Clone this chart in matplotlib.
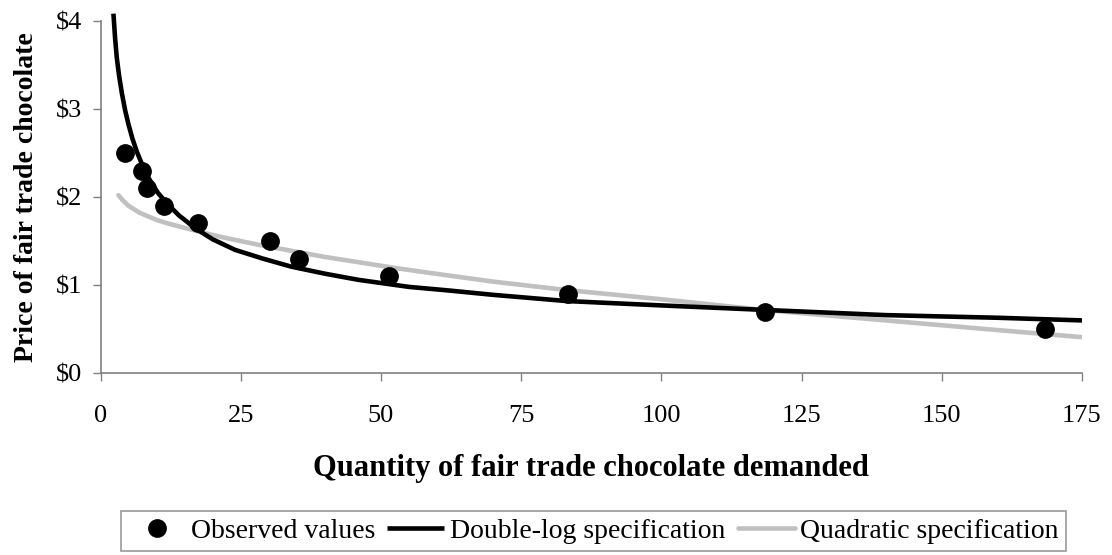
import numpy as np
import matplotlib
matplotlib.use("Agg")
import matplotlib.pyplot as plt
from matplotlib.ticker import FuncFormatter

plt.rcParams['font.family'] = ['Liberation Serif', 'DejaVu Serif']

# observed data points
obs_qty = [4.3, 7.4, 8.3, 11.3, 17.3, 30.3, 35.4, 51.4, 83.3, 118.4, 168.4]
obs_price = [2.50, 2.30, 2.10, 1.90, 1.70, 1.50, 1.30, 1.10, 0.90, 0.70, 0.50]

# double-log fitted curve
dlog_qty = [2.3, 2.6, 2.9, 3.3, 3.8, 4.4, 5.0, 5.7, 6.5, 7.6, 8.8, 10.2, 11.8, 14, 17, 20, 24,
            29, 34, 40, 46, 55, 62, 70, 83, 100, 118, 140, 160, 175]
dlog_price = [4.08, 3.80, 3.58, 3.38, 3.18, 2.98, 2.82, 2.66, 2.51, 2.34, 2.19, 2.05, 1.93, 1.79,
              1.64, 1.52, 1.40, 1.30, 1.21, 1.13, 1.06, 0.98, 0.94, 0.89, 0.82, 0.77, 0.72,
              0.66, 0.63, 0.60]

# quadratic fitted curve
quad_qty = [3.2, 4, 5, 6, 7, 8.5, 10, 12, 15, 18, 22, 28, 34, 40, 47, 53, 62, 70, 83, 100,
            118, 140, 160, 175]
quad_price = [2.02, 1.96, 1.90, 1.86, 1.82, 1.78, 1.74, 1.70, 1.65, 1.60, 1.54, 1.46, 1.39,
              1.32, 1.25, 1.19, 1.11, 1.04, 0.945, 0.84, 0.72, 0.60, 0.49, 0.41]

fig = plt.figure(figsize=(11.12, 5.55), dpi=100)
ax = fig.add_axes([0.0904, 0.3274, 0.8826, 0.6353])

ax.plot(obs_qty, obs_price, 'o', color='black', markersize=12.5, label='Observed values', zorder=4)
ax.plot(dlog_qty, dlog_price, '-', color='black', lw=3.3, label='Double-log specification',
        clip_on=False, zorder=3, solid_capstyle='butt', solid_joinstyle='round')
ax.plot(quad_qty, quad_price, '-', color='#c0c0c0', lw=3.3, label='Quadratic specification',
        zorder=2, solid_capstyle='round', solid_joinstyle='round')

ax.set_xlim(0, 175)
ax.set_ylim(0, 4)
ax.set_xticks(np.arange(0, 176, 25))
ax.set_yticks(np.arange(0, 5, 1))
ax.yaxis.set_major_formatter(FuncFormatter(lambda v, p: '$%d' % v))

for s in ['top', 'right']:
    ax.spines[s].set_visible(False)
for s in ['left', 'bottom']:
    ax.spines[s].set_color('#808080')
    ax.spines[s].set_linewidth(1.2)
ax.tick_params(axis='both', direction='out', length=6, width=1, color='#808080',
               labelsize=19, labelcolor='black')
ax.tick_params(axis='x', pad=17)
ax.tick_params(axis='y', pad=7)

ax.set_xlabel('Quantity of fair trade chocolate demanded', fontsize=22, fontweight='bold', labelpad=19)
ax.set_ylabel('Price of fair trade chocolate', fontsize=20, fontweight='bold', labelpad=12)

leg = fig.legend(loc='center', bbox_to_anchor=(0.5337, 0.0432), ncol=3, fontsize=20,
                 frameon=True, fancybox=False, edgecolor='#808080', handlelength=2.05,
                 handletextpad=0.2, columnspacing=0.45, borderpad=0.25, borderaxespad=0)
leg.get_frame().set_linewidth(1.2)

fig.savefig('out.png', dpi=100)
